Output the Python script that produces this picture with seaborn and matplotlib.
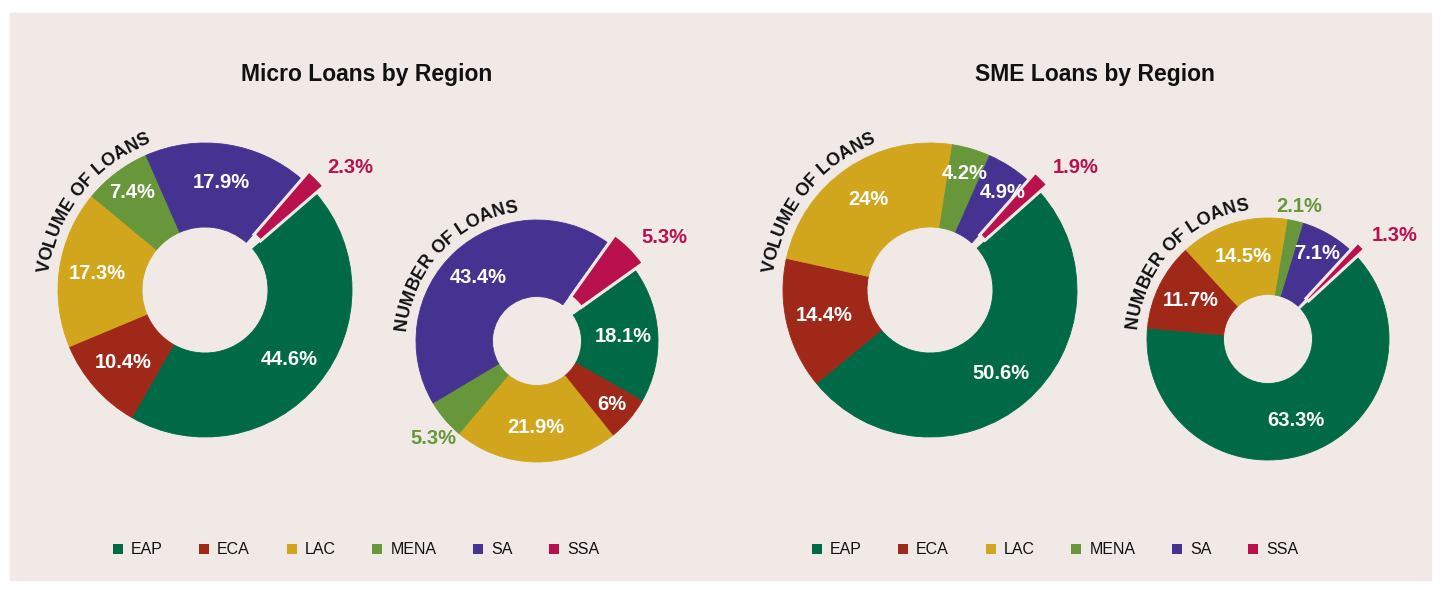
import numpy as np
import matplotlib
matplotlib.use("Agg")
import matplotlib.pyplot as plt
import seaborn as sns
from matplotlib.patches import Patch, Rectangle
from matplotlib.font_manager import FontProperties, findfont
from matplotlib.ft2font import FT2Font

# data (percent shares)
regions = ["EAP", "ECA", "LAC", "MENA", "SA", "SSA"]
micro_volume = [44.6, 10.4, 17.3, 7.4, 17.9, 2.3]
micro_number = [18.1, 6, 21.9, 5.3, 43.4, 5.3]
sme_volume = [50.6, 14.4, 24, 4.2, 4.9, 1.9]
sme_number = [63.3, 11.7, 14.5, 2.1, 7.1, 1.3]
panel_titles = ["Micro Loans by Region", "SME Loans by Region"]
ring_titles = ["VOLUME OF LOANS", "NUMBER OF LOANS"]

sns.set_theme(style="white")
plt.rcParams["font.family"] = ["Liberation Sans", "DejaVu Sans"]

colors = sns.color_palette(["#006946", "#a02819", "#d1a61d", "#67973a", "#463291", "#b8114e"])
bg = "#f0e9e6"

W, H = 1441, 590
fig = plt.figure(figsize=(W / 100, H / 100), dpi=100, facecolor="white")
ax = fig.add_axes([0, 0, 1, 1])
ax.set_xlim(0, W)
ax.set_ylim(0, H)
ax.add_patch(Rectangle((10, 10), 1421, 567, color=bg, zorder=0))

ring_fp = FontProperties(family="Liberation Sans", weight="bold", size=13)
ring_font = FT2Font(findfont(ring_fp))
ring_font.set_size(13, 100)


def curved_text(text, cx, cy, radius, center_deg):
    adv = [ring_font.load_char(ord(ch)).linearHoriAdvance / 65536 for ch in text]
    total = sum(adv)
    pos = 0
    for ch, a in zip(text, adv):
        s = pos + a / 2 - total / 2
        ang = np.deg2rad(center_deg) - s / radius
        ax.text(cx + radius * np.cos(ang), cy + radius * np.sin(ang), ch,
                rotation=np.rad2deg(ang) - 90, rotation_mode="anchor",
                ha="center", va="baseline", fontproperties=ring_fp, color="#111111")
        pos += a


inside_labels = []  # per donut: (text, geometry)


def donut(values, cx, cy_img, r_out, r_in, ring_title, title_deg, outside, explode_px=11):
    cy = H - cy_img
    frac = np.array(values) / np.sum(values)
    start = 45 - 180 * frac[-1]
    explode = [0] * (len(values) - 1) + [explode_px]
    wedges, _ = ax.pie(values, colors=colors, radius=r_out, center=(cx, cy),
                       startangle=start, counterclock=False, explode=explode,
                       wedgeprops=dict(width=r_out - r_in, linewidth=0.6), frame=True)
    for w, c in zip(wedges, colors):
        w.set_edgecolor(c)
    wedges[-1].set_edgecolor(bg)
    wedges[-1].set_linewidth(2.2)

    cum = np.concatenate([[0], np.cumsum(frac)])
    group = []
    for i, (reg, v) in enumerate(zip(regions, values)):
        t1 = start - 360 * cum[i]
        t2 = start - 360 * cum[i + 1]
        mid = np.deg2rad((t1 + t2) / 2)
        off = explode[i]
        lab = f"{v:g}%"
        if reg in outside:
            r = r_out + 15 + off
            ha = "left" if np.cos(mid) > 0.3 else "center"
            va = "top" if np.sin(mid) < -0.3 else "center"
            t = ax.text(cx + r * np.cos(mid), cy + r * np.sin(mid), lab, ha=ha, va=va,
                        color=colors[i], fontsize=14.5, fontweight="bold")
            group.append((t, None))
        else:
            ring = r_out - r_in
            r = r_in + ring * (0.7 if frac[i] < 0.08 else 0.55)
            t = ax.text(cx + r * np.cos(mid), cy + r * np.sin(mid), lab, ha="center",
                        va="center", color="white", fontsize=14.5, fontweight="bold")
            group.append((t, (cx, cy, r, mid)))
    inside_labels.append(group)

    curved_text(ring_title, cx, cy, r_out + 10, title_deg)


donut(micro_volume, 205, 290, 147, 63, ring_titles[0], 142, ["SSA"])
donut(micro_number, 537, 341, 121, 44.5, ring_titles[1], 137, ["MENA", "SSA"])
donut(sme_volume, 930, 290, 147, 63, ring_titles[0], 142, ["SSA"])
donut(sme_number, 1268, 339, 121, 44.5, ring_titles[1], 137, ["MENA", "SSA"])

# nudge crowded inside labels clockwise along their ring
fig.canvas.draw()
renderer = fig.canvas.get_renderer()
for group in inside_labels:
    for k in range(1, len(group)):
        t, geo = group[k]
        if geo is None:
            continue
        cx, cy, r, ang = geo
        for _ in range(20):
            bb = t.get_window_extent(renderer)
            if not any(bb.overlaps(o.get_window_extent(renderer)) for o, _ in group[:k]):
                break
            ang -= np.deg2rad(2)
            t.set_position((cx + r * np.cos(ang), cy + r * np.sin(ang)))

ax.text(367, H - 75, panel_titles[0], ha="center", va="center", fontsize=16.5,
        fontweight="bold", color="#111111")
ax.text(1095, H - 75, panel_titles[1], ha="center", va="center", fontsize=16.5,
        fontweight="bold", color="#111111")

handles = [Patch(facecolor=c, edgecolor="none", label=r) for r, c in zip(regions, colors)]
legend_kw = dict(loc="center", bbox_transform=ax.transData, ncol=6, frameon=False,
                 fontsize=11.5, handlelength=0.625, handleheight=0.625,
                 handletextpad=0.5, columnspacing=2.3, labelcolor="#111111")
leg1 = ax.legend(handles=handles, bbox_to_anchor=(356, H - 550), **legend_kw)
ax.add_artist(leg1)
ax.legend(handles=handles, bbox_to_anchor=(1055, H - 550), **legend_kw)

ax.set_xlim(0, W)
ax.set_ylim(0, H)
ax.set_aspect("auto")
ax.axis("off")

fig.savefig("out.png", dpi=100, facecolor="white")
